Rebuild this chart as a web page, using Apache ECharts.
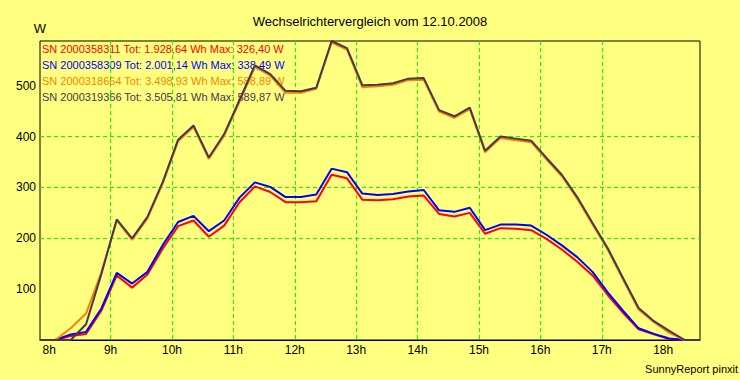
<!DOCTYPE html>
<html><head><meta charset="utf-8">
<script src="https://cdn.jsdelivr.net/npm/echarts@6/dist/echarts.min.js"></script>
<style>html,body{margin:0;padding:0;background:#ffff80}#c{width:740px;height:380px}</style>
</head><body><div id="c"></div>
<script>
const chartTitle = 'Wechselrichtervergleich vom 12.10.2008';
const yUnit = 'W';
const credit = 'SunnyReport pinxit';
const hourTicks = [8, 9, 10, 11, 12, 13, 14, 15, 16, 17, 18];
const yTicks = [100, 200, 300, 400, 500];
const hours = [7.85, 8.10, 8.35, 8.60, 8.85, 9.10, 9.35, 9.60, 9.85, 10.10, 10.35, 10.60, 10.85, 11.10, 11.35, 11.60, 11.85, 12.10, 12.35, 12.60, 12.85, 13.10, 13.35, 13.60, 13.85, 14.10, 14.35, 14.60, 14.85, 15.10, 15.35, 15.60, 15.85, 16.10, 16.35, 16.60, 16.85, 17.10, 17.35, 17.60, 17.85, 18.10, 18.35, 18.60];
const serials = ['SN 2000358311', 'SN 2000358309', 'SN 2000318664', 'SN 2000319366'];
const totals = ['1.928,64', '2.001,14', '3.498,93', '3.505,81'];
const maxima = ['326,40', '338,49', '588,89', '589,87'];
const sn311 = [0, 0, 8, 12, 58, 127, 103, 129, 180, 224, 235, 203, 225, 271, 302, 291, 271, 271, 273, 325, 318, 276, 275, 277, 282, 284, 248, 243, 250, 209, 220, 219, 216, 199, 178, 154, 127, 88, 53, 21, 11, 2, 0, 0];
const sn309 = [0, 0, 11, 16, 62, 132, 111, 134, 187, 232, 244, 214, 235, 280, 310, 301, 281, 281, 286, 337, 330, 288, 285, 287, 292, 295, 255, 252, 260, 216, 227, 227, 225, 207, 186, 163, 134, 93, 57, 23, 12, 3, 0, 0];
const sn664 = [0, 0, 23, 52, 133, 235, 197, 239, 308, 391, 419, 356, 402, 469, 537, 520, 486, 486, 494, 585, 571, 497, 499, 502, 511, 512, 449, 437, 454, 369, 397, 393, 389, 355, 322, 278, 227, 177, 118, 60, 35, 14, 0, 0];
const sn366 = [0, 0, 0, 31, 130, 237, 200, 242, 311, 394, 422, 359, 405, 472, 540, 523, 490, 489, 496, 588, 574, 501, 502, 505, 514, 515, 452, 440, 457, 372, 400, 396, 392, 358, 325, 281, 230, 180, 121, 63, 37, 18, 0, 0];
const colors = ['#ff0000', '#0000ff', '#ff8000', '#463650'];
const values = [sn311, sn309, sn664, sn366];

const names = serials.map((s, i) => s + ' Tot: ' + totals[i] + ' Wh Max: ' + maxima[i] + ' W');
const font = 'Liberation Sans, Arial, sans-serif';
const chart = echarts.init(document.getElementById('c'), null, {renderer: 'svg'});
chart.setOption({
  animation: false,
  backgroundColor: '#ffff80',
  textStyle: {fontFamily: font},
  title: {
    text: chartTitle, left: 'center', top: 10,
    textStyle: {fontSize: 13, fontWeight: 'normal', color: '#000', fontFamily: font}
  },
  graphic: [{
    type: 'text', right: 2, top: 363,
    style: {text: credit, font: '11px ' + font, fill: '#000'}
  }],
  legend: {
    orient: 'vertical', left: 37, top: 41, padding: 0, itemGap: 0,
    itemWidth: 0, itemHeight: 16, icon: 'none', z: -1, selectedMode: false,
    data: names.map((n, i) => ({name: n, textStyle: {color: colors[i]}})),
    textStyle: {fontSize: 11, fontFamily: font, lineHeight: 16}
  },
  grid: {left: 40, right: 40, top: 41, bottom: 40, show: true, borderColor: '#000', borderWidth: 1, backgroundColor: 'transparent'},
  xAxis: {
    type: 'value', min: 7.85, max: 18.6,
    axisLine: {show: true, lineStyle: {color: '#000', width: 1}},
    axisTick: {show: false, customValues: hourTicks},
    axisLabel: {customValues: hourTicks, formatter: v => v + 'h', color: '#000', fontSize: 12, margin: 4, fontFamily: font},
    splitLine: {show: true, showMinLine: false, showMaxLine: false, lineStyle: {color: '#00ff00', type: [4, 3], width: 1}}
  },
  yAxis: {
    type: 'value', min: 0, max: 588,
    name: yUnit, nameLocation: 'end', nameGap: 6,
    nameTextStyle: {fontSize: 13, color: '#000', fontFamily: font, align: 'center'},
    axisLine: {show: false},
    axisTick: {show: false, customValues: yTicks},
    axisLabel: {customValues: yTicks, color: '#000', fontSize: 12, margin: 4, fontFamily: font},
    splitLine: {show: true, showMinLine: false, showMaxLine: false, lineStyle: {color: '#00ff00', type: [4, 3], width: 1}}
  },
  series: values.map((v, i) => ({
    name: names[i], type: 'line', showSymbol: false, symbol: 'none',
    data: v.map((y, k) => [hours[k], y]),
    lineStyle: {color: colors[i], width: 2},
    itemStyle: {color: colors[i]},
    z: 2 + i
  }))
});
</script></body></html>
